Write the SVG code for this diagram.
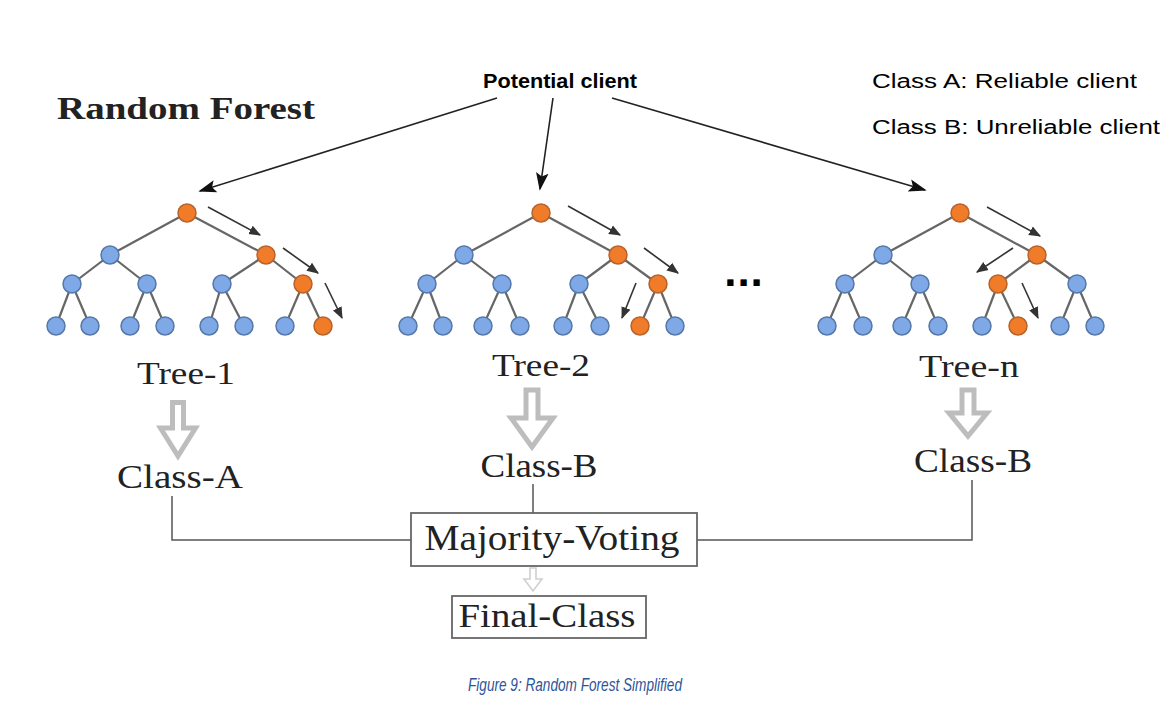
<svg xmlns="http://www.w3.org/2000/svg" width="1165" height="726" viewBox="0 0 1165 726">
<defs>
<style>
.edge{stroke:#666;stroke-width:2.2;fill:none}
.b{fill:#7fa8e6;stroke:#5577aa;stroke-width:1.5}
.o{fill:#f07c2a;stroke:#b8622a;stroke-width:1.5}
.dir{stroke:#333;stroke-width:1.6;fill:none}
.big{stroke:#222;stroke-width:1.6;fill:none}
.hollow{fill:#fff;stroke:#bdbdbd;stroke-width:5;stroke-linejoin:miter}
.conn{stroke:#555;stroke-width:1.5;fill:none}
.serif{font-family:"Liberation Serif","Times New Roman",serif;fill:#222}
.sans{font-family:"Liberation Sans",Arial,sans-serif;fill:#000}
</style>
<marker id="ahb" viewBox="0 0 10 10" refX="9" refY="5" markerWidth="18" markerHeight="18" orient="auto" markerUnits="userSpaceOnUse">
<path d="M0,1.5 L10,5 L0,8.5 L2,5 Z" fill="#111"/>
</marker>
<marker id="ahs" viewBox="0 0 10 10" refX="9" refY="5" markerWidth="12" markerHeight="12" orient="auto" markerUnits="userSpaceOnUse">
<path d="M0,1 L10,5 L0,9 Z" fill="#333"/>
</marker>
</defs>
<rect width="1165" height="726" fill="#fff"/>

<text class="serif" x="57" y="119" font-size="32" font-weight="bold" textLength="258" lengthAdjust="spacingAndGlyphs">Random Forest</text>
<g id="input"><text class="sans" x="560" y="88" font-size="21" font-weight="bold" text-anchor="middle" textLength="154" lengthAdjust="spacingAndGlyphs">Potential client</text></g>
<g id="legend">
<text class="sans" x="872" y="88" font-size="20" textLength="265" lengthAdjust="spacingAndGlyphs">Class A: Reliable client</text>
<text class="sans" x="872" y="134" font-size="20" textLength="288" lengthAdjust="spacingAndGlyphs">Class B: Unreliable client</text>
</g>

<g id="connectors">
<line class="big" x1="497" y1="98" x2="200" y2="191" marker-end="url(#ahb)"/>
<line class="big" x1="553" y1="98" x2="540" y2="189" marker-end="url(#ahb)"/>
<line class="big" x1="612" y1="98" x2="925" y2="190" marker-end="url(#ahb)"/>
<polyline class="conn" points="172,496 172,540 411,540"/>
<line class="conn" x1="533" y1="484" x2="533" y2="513"/>
<polyline class="conn" points="972,480 972,540 697,540"/>
<path d="M530,568 H536 V579 H542 L533,591 L524,579 H530 Z" fill="#fff" stroke="#d0d0d0" stroke-width="1.6"/>
</g>

<g id="tree-1">
<g class="edge">
<line x1="187" y1="213" x2="110" y2="255"/><line x1="187" y1="213" x2="266" y2="255"/>
<line x1="110" y1="255" x2="72" y2="284"/><line x1="110" y1="255" x2="147" y2="284"/>
<line x1="266" y1="255" x2="222" y2="284"/><line x1="266" y1="255" x2="303" y2="284"/>
<line x1="72" y1="284" x2="56" y2="326"/><line x1="72" y1="284" x2="90" y2="326"/>
<line x1="147" y1="284" x2="130" y2="326"/><line x1="147" y1="284" x2="165" y2="326"/>
<line x1="222" y1="284" x2="209" y2="326"/><line x1="222" y1="284" x2="244" y2="326"/>
<line x1="303" y1="284" x2="285" y2="326"/><line x1="303" y1="284" x2="323" y2="326"/>
</g>
<circle class="o" cx="187" cy="213" r="9"/>
<circle class="b" cx="110" cy="255" r="9"/><circle class="o" cx="266" cy="255" r="9"/>
<circle class="b" cx="72" cy="284" r="9"/><circle class="b" cx="147" cy="284" r="9"/><circle class="b" cx="222" cy="284" r="9"/><circle class="o" cx="303" cy="284" r="9"/>
<circle class="b" cx="56" cy="326" r="9"/><circle class="b" cx="90" cy="326" r="9"/><circle class="b" cx="130" cy="326" r="9"/><circle class="b" cx="165" cy="326" r="9"/>
<circle class="b" cx="209" cy="326" r="9"/><circle class="b" cx="244" cy="326" r="9"/><circle class="b" cx="285" cy="326" r="9"/><circle class="o" cx="323" cy="326" r="9"/>
<line class="dir" x1="208" y1="207" x2="260" y2="235" marker-end="url(#ahs)"/>
<line class="dir" x1="283" y1="248" x2="318" y2="273" marker-end="url(#ahs)"/>
<line class="dir" x1="325" y1="283" x2="342" y2="318" marker-end="url(#ahs)"/>
<text class="serif" x="186" y="384" font-size="32" text-anchor="middle" textLength="98" lengthAdjust="spacingAndGlyphs">Tree-1</text>
<path class="hollow" d="M172.5,402.5 H183.5 V428 H195.5 L178,456 L160.5,428 H172.5 Z"/>
<text class="serif" x="180" y="488" font-size="34" text-anchor="middle" textLength="126" lengthAdjust="spacingAndGlyphs">Class-A</text>
</g>

<g id="tree-2">
<g class="edge">
<line x1="541" y1="213" x2="464" y2="255"/><line x1="541" y1="213" x2="618" y2="255"/>
<line x1="464" y1="255" x2="427" y2="284"/><line x1="464" y1="255" x2="502" y2="284"/>
<line x1="618" y1="255" x2="579" y2="284"/><line x1="618" y1="255" x2="658" y2="284"/>
<line x1="427" y1="284" x2="408" y2="326"/><line x1="427" y1="284" x2="443" y2="326"/>
<line x1="502" y1="284" x2="483" y2="326"/><line x1="502" y1="284" x2="520" y2="326"/>
<line x1="579" y1="284" x2="563" y2="326"/><line x1="579" y1="284" x2="600" y2="326"/>
<line x1="658" y1="284" x2="640" y2="326"/><line x1="658" y1="284" x2="675" y2="326"/>
</g>
<circle class="o" cx="541" cy="213" r="9"/>
<circle class="b" cx="464" cy="255" r="9"/><circle class="o" cx="618" cy="255" r="9"/>
<circle class="b" cx="427" cy="284" r="9"/><circle class="b" cx="502" cy="284" r="9"/><circle class="b" cx="579" cy="284" r="9"/><circle class="o" cx="658" cy="284" r="9"/>
<circle class="b" cx="408" cy="326" r="9"/><circle class="b" cx="443" cy="326" r="9"/><circle class="b" cx="483" cy="326" r="9"/><circle class="b" cx="520" cy="326" r="9"/>
<circle class="b" cx="563" cy="326" r="9"/><circle class="b" cx="600" cy="326" r="9"/><circle class="o" cx="640" cy="326" r="9"/><circle class="b" cx="675" cy="326" r="9"/>
<line class="dir" x1="568" y1="206" x2="620" y2="235" marker-end="url(#ahs)"/>
<line class="dir" x1="644" y1="248" x2="678" y2="273" marker-end="url(#ahs)"/>
<line class="dir" x1="636" y1="283" x2="622" y2="318" marker-end="url(#ahs)"/>
<text class="serif" x="541" y="376" font-size="32" text-anchor="middle" textLength="98" lengthAdjust="spacingAndGlyphs">Tree-2</text>
<path class="hollow" d="M526,390 H538 V418 H553 L532,447 L511,418 H526 Z"/>
<text class="serif" x="539" y="477" font-size="34" text-anchor="middle" textLength="117" lengthAdjust="spacingAndGlyphs">Class-B</text>
</g>

<g id="ellipsis"><text class="sans" x="744" y="286" font-size="44" font-weight="bold" text-anchor="middle" fill="#111" letter-spacing="1">...</text></g>

<g id="tree-n">
<g class="edge">
<line x1="960" y1="213" x2="883" y2="255"/><line x1="960" y1="213" x2="1037" y2="255"/>
<line x1="883" y1="255" x2="845" y2="284"/><line x1="883" y1="255" x2="920" y2="284"/>
<line x1="1037" y1="255" x2="998" y2="284"/><line x1="1037" y1="255" x2="1077" y2="284"/>
<line x1="845" y1="284" x2="827" y2="326"/><line x1="845" y1="284" x2="863" y2="326"/>
<line x1="920" y1="284" x2="902" y2="326"/><line x1="920" y1="284" x2="938" y2="326"/>
<line x1="998" y1="284" x2="982" y2="326"/><line x1="998" y1="284" x2="1018" y2="326"/>
<line x1="1077" y1="284" x2="1060" y2="326"/><line x1="1077" y1="284" x2="1095" y2="326"/>
</g>
<circle class="o" cx="960" cy="213" r="9"/>
<circle class="b" cx="883" cy="255" r="9"/><circle class="o" cx="1037" cy="255" r="9"/>
<circle class="b" cx="845" cy="284" r="9"/><circle class="b" cx="920" cy="284" r="9"/><circle class="o" cx="998" cy="284" r="9"/><circle class="b" cx="1077" cy="284" r="9"/>
<circle class="b" cx="827" cy="326" r="9"/><circle class="b" cx="863" cy="326" r="9"/><circle class="b" cx="902" cy="326" r="9"/><circle class="b" cx="938" cy="326" r="9"/>
<circle class="b" cx="982" cy="326" r="9"/><circle class="o" cx="1018" cy="326" r="9"/><circle class="b" cx="1060" cy="326" r="9"/><circle class="b" cx="1095" cy="326" r="9"/>
<line class="dir" x1="987" y1="207" x2="1040" y2="236" marker-end="url(#ahs)"/>
<line class="dir" x1="1013" y1="248" x2="977" y2="272" marker-end="url(#ahs)"/>
<line class="dir" x1="1022" y1="283" x2="1038" y2="318" marker-end="url(#ahs)"/>
<text class="serif" x="969" y="377" font-size="32" text-anchor="middle" textLength="100" lengthAdjust="spacingAndGlyphs">Tree-n</text>
<path class="hollow" d="M962,390 H974 V413 H987 L968,436 L949,413 H962 Z"/>
<text class="serif" x="973" y="472" font-size="34" text-anchor="middle" textLength="118" lengthAdjust="spacingAndGlyphs">Class-B</text>
</g>

<g id="majority-voting">
<rect x="411" y="513" width="286" height="53" fill="#fff" stroke="#666" stroke-width="1.8"/>
<text class="serif" x="552" y="550" font-size="36" text-anchor="middle" textLength="255" lengthAdjust="spacingAndGlyphs">Majority-Voting</text>
</g>
<g id="final-class">
<rect x="452" y="596" width="194" height="42" fill="#fff" stroke="#666" stroke-width="1.8"/>
<text class="serif" x="547" y="627" font-size="33" text-anchor="middle" textLength="177" lengthAdjust="spacingAndGlyphs">Final-Class</text>
</g>

<text x="575" y="691" font-family="Liberation Sans, Arial, sans-serif" font-style="italic" font-size="18" fill="#2f5597" text-anchor="middle" textLength="214" lengthAdjust="spacingAndGlyphs">Figure 9: Random Forest Simplified</text>
</svg>
